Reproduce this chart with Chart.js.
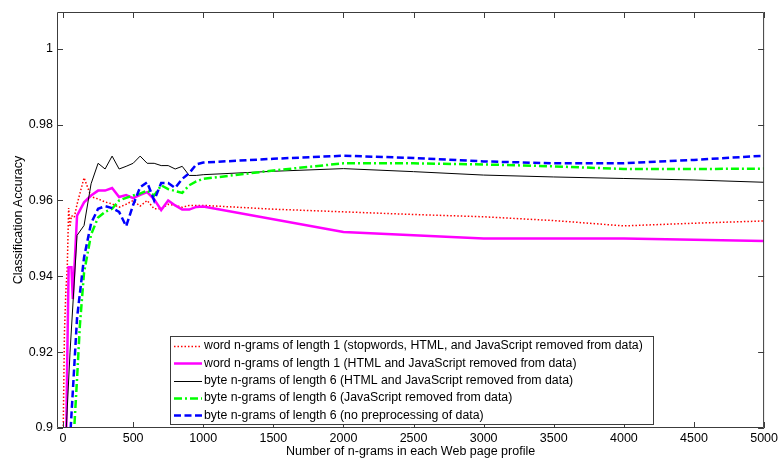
<!DOCTYPE html>
<html>
<head>
<meta charset="utf-8">
<script src="https://cdn.jsdelivr.net/npm/chart.js@4.4.0/dist/chart.umd.min.js"></script>
<style>
  html, body { margin: 0; padding: 0; background: #fff; }
  #wrap { width: 781px; height: 462px; }
</style>
</head>
<body>
<div id="wrap"><canvas id="accChart" width="781" height="462"></canvas></div>
<script>
// x ticks / y ticks
const xTicks = [0, 500, 1000, 1500, 2000, 2500, 3000, 3500, 4000, 4500, 5000];
const yTicks = [0.9, 0.92, 0.94, 0.96, 0.98, 1];
const yTickLabels = ["0.9", "0.92", "0.94", "0.96", "0.98", "1"];

const seriesNames = [
  "word n-grams of length 1 (stopwords, HTML, and JavaScript removed from data)",
  "word n-grams of length 1 (HTML and JavaScript removed from data)",
  "byte n-grams of length 6 (HTML and JavaScript removed from data)",
  "byte n-grams of length 6 (JavaScript removed from data)",
  "byte n-grams of length 6 (no preprocessing of data)"
];

// word n-grams, stopwords + HTML + JS removed
const wordStopX = [0, 10, 20, 30, 40, 50, 60, 80, 100, 150, 200, 250, 300, 350, 400, 450, 500, 550, 600, 650, 700, 750, 800, 850, 900, 950, 1000, 1500, 2000, 2500, 3000, 3500, 4000, 4500, 5000];
const wordStopY = [0.895, 0.925, 0.936, 0.942, 0.958, 0.953, 0.956, 0.9555, 0.959, 0.966, 0.961, 0.9604, 0.9596, 0.9591, 0.9582, 0.959, 0.96, 0.9585, 0.96, 0.9578, 0.9578, 0.959, 0.9587, 0.9582, 0.9587, 0.9587, 0.9587, 0.9577, 0.957, 0.9563, 0.9557, 0.9547, 0.9533, 0.954, 0.9546];

// word n-grams, HTML + JS removed
const wordX = [20, 30, 40, 60, 70, 100, 150, 200, 250, 300, 350, 400, 450, 500, 550, 600, 650, 700, 750, 800, 850, 900, 950, 1000, 2000, 3000, 4000, 5000];
const wordY = [0.89, 0.918, 0.9424, 0.9424, 0.934, 0.956, 0.9595, 0.9613, 0.9626, 0.9626, 0.9633, 0.9609, 0.9614, 0.9606, 0.9615, 0.9622, 0.9603, 0.9575, 0.96, 0.9587, 0.9576, 0.9576, 0.9583, 0.9584, 0.9517, 0.95, 0.95, 0.9493];

// byte n-grams, HTML + JS removed
const byteHtmlX = [10, 50, 100, 150, 200, 250, 300, 350, 400, 450, 500, 550, 600, 650, 700, 750, 800, 850, 900, 950, 1000, 1500, 2000, 2500, 3000, 3500, 4000, 4500, 5000];
const byteHtmlY = [0.89, 0.92, 0.9508, 0.9534, 0.9644, 0.9698, 0.9683, 0.9717, 0.9683, 0.969, 0.9698, 0.9717, 0.9698, 0.9698, 0.9692, 0.9692, 0.9683, 0.969, 0.9666, 0.9666, 0.9668, 0.9677, 0.9684, 0.9676, 0.9667, 0.9662, 0.9658, 0.9654, 0.9648];

// byte n-grams, JS removed
const byteJsX = [50, 80, 100, 120, 150, 200, 250, 300, 350, 400, 450, 500, 550, 600, 650, 700, 750, 800, 850, 900, 950, 1000, 1500, 2000, 2500, 3000, 3500, 4000, 4500, 5000];
const byteJsY = [0.88, 0.9, 0.913, 0.927, 0.941, 0.951, 0.9555, 0.957, 0.9578, 0.96, 0.9607, 0.9613, 0.9618, 0.9626, 0.9613, 0.964, 0.963, 0.9625, 0.962, 0.964, 0.965, 0.9657, 0.9679, 0.9698, 0.9698, 0.9695, 0.969, 0.9683, 0.9683, 0.9684];

// byte n-grams, no preprocessing
const byteRawX = [50, 100, 150, 200, 250, 300, 350, 400, 450, 500, 550, 600, 650, 700, 750, 800, 850, 900, 950, 1000, 1500, 2000, 2500, 3000, 3500, 4000, 4500, 5000];
const byteRawY = [0.897, 0.929, 0.945, 0.954, 0.9578, 0.9585, 0.958, 0.957, 0.9532, 0.9588, 0.9635, 0.9648, 0.960, 0.9646, 0.9646, 0.9633, 0.9657, 0.9672, 0.9695, 0.97, 0.971, 0.9718, 0.9712, 0.9703, 0.9698, 0.9698, 0.9707, 0.9718];

const axisColor = "#3c3c3c";
const fontFamily = "'Liberation Sans', Arial, Helvetica, sans-serif";
const fontSize = 12.5;

function pts(xs, ys) {
  return xs.map((x, i) => ({ x: x, y: ys[i] }));
}

function lineSet(label, xs, ys, color, width, dash, order) {
  return {
    label: label,
    data: pts(xs, ys),
    borderColor: color,
    backgroundColor: color,
    borderWidth: width,
    borderDash: dash,
    pointRadius: 0,
    tension: 0,
    fill: false,
    order: order
  };
}

// box round the axes with MATLAB style inward ticks
const axesBox = {
  id: "axesBox",
  afterDatasetsDraw(chart) {
    const { ctx, chartArea: a, scales } = chart;
    const x = scales.x, y = scales.y;
    ctx.save();
    ctx.strokeStyle = axisColor;
    ctx.lineWidth = 1;
    ctx.beginPath();
    ctx.rect(a.left + 0.5, a.top + 0.5, a.right - a.left - 1, a.bottom - a.top - 1);
    x.ticks.forEach(t => {
      const px = Math.round(x.getPixelForValue(t.value)) + 0.5;
      ctx.moveTo(px, a.bottom); ctx.lineTo(px, a.bottom - 6);
      ctx.moveTo(px, a.top); ctx.lineTo(px, a.top + 6);
    });
    y.ticks.forEach(t => {
      const py = Math.round(y.getPixelForValue(t.value)) + 0.5;
      ctx.moveTo(a.left, py); ctx.lineTo(a.left + 6, py);
      ctx.moveTo(a.right, py); ctx.lineTo(a.right - 6, py);
    });
    ctx.stroke();
    ctx.restore();
  }
};

// legend box inside the axes, lower middle
const boxLegend = {
  id: "boxLegend",
  afterDraw(chart) {
    const { ctx } = chart;
    const left = 170, top = 336, w = 483, h = 88;
    ctx.save();
    ctx.fillStyle = "#fff";
    ctx.fillRect(left, top, w, h);
    ctx.strokeStyle = axisColor;
    ctx.lineWidth = 1;
    ctx.strokeRect(left + 0.5, top + 0.5, w, h);
    ctx.font = "12.3px " + fontFamily;
    ctx.textBaseline = "middle";
    ctx.fillStyle = "#000";
    chart.data.datasets.forEach((ds, i) => {
      const yy = top + 10 + i * 17.3;
      ctx.save();
      ctx.strokeStyle = ds.borderColor;
      ctx.lineWidth = ds.borderWidth;
      ctx.setLineDash(ds.borderDash || []);
      ctx.beginPath();
      ctx.moveTo(174, Math.round(yy) + 0.5);
      ctx.lineTo(202, Math.round(yy) + 0.5);
      ctx.stroke();
      ctx.restore();
      ctx.fillText(ds.label, 204, yy);
    });
    ctx.restore();
  }
};

new Chart(document.getElementById("accChart"), {
  type: "line",
  data: {
    datasets: [
      lineSet(seriesNames[0], wordStopX, wordStopY, "#ff0000", 1.5, [1.5, 2], 5),
      lineSet(seriesNames[1], wordX, wordY, "#ff00ff", 2.5, [], 4),
      lineSet(seriesNames[2], byteHtmlX, byteHtmlY, "#000000", 1, [], 3),
      lineSet(seriesNames[3], byteJsX, byteJsY, "#00ff00", 2.5, [8, 3, 2, 3], 2),
      lineSet(seriesNames[4], byteRawX, byteRawY, "#0000ff", 2.5, [7, 3.5], 1)
    ]
  },
  options: {
    responsive: false,
    animation: false,
    layout: { padding: { left: 0, top: 12, right: 15, bottom: 0 } },
    plugins: {
      legend: { display: false },
      tooltip: { enabled: false }
    },
    scales: {
      x: {
        type: "linear",
        min: -43,
        max: 5000,
        grid: { display: false, drawTicks: false },
        border: { display: false },
        afterBuildTicks: s => { s.ticks = xTicks.map(v => ({ value: v })); },
        afterFit: s => { s.height = 34; },
        ticks: {
          padding: 3,
          maxRotation: 0,
          autoSkip: false,
          color: "#000",
          font: { family: fontFamily, size: fontSize },
          callback: v => String(v)
        },
        title: {
          display: true,
          text: "Number of n-grams in each Web page profile",
          color: "#000",
          font: { family: fontFamily, size: fontSize },
          padding: { top: 0, bottom: 3 }
        }
      },
      y: {
        type: "linear",
        min: 0.9,
        max: 1.0097,
        grid: { display: false, drawTicks: false },
        border: { display: false },
        afterBuildTicks: s => { s.ticks = yTicks.map(v => ({ value: v })); },
        afterFit: s => { s.width = 57; },
        ticks: {
          padding: 4,
          autoSkip: false,
          color: "#000",
          font: { family: fontFamily, size: fontSize },
          callback: v => {
            const i = yTicks.findIndex(t => Math.abs(t - v) < 1e-9);
            return i >= 0 ? yTickLabels[i] : "";
          }
        },
        title: {
          display: true,
          text: "Classification Accuracy",
          color: "#000",
          font: { family: fontFamily, size: fontSize },
          padding: { top: 11, bottom: 0 }
        }
      }
    }
  },
  plugins: [axesBox, boxLegend]
});
</script>
</body>
</html>
